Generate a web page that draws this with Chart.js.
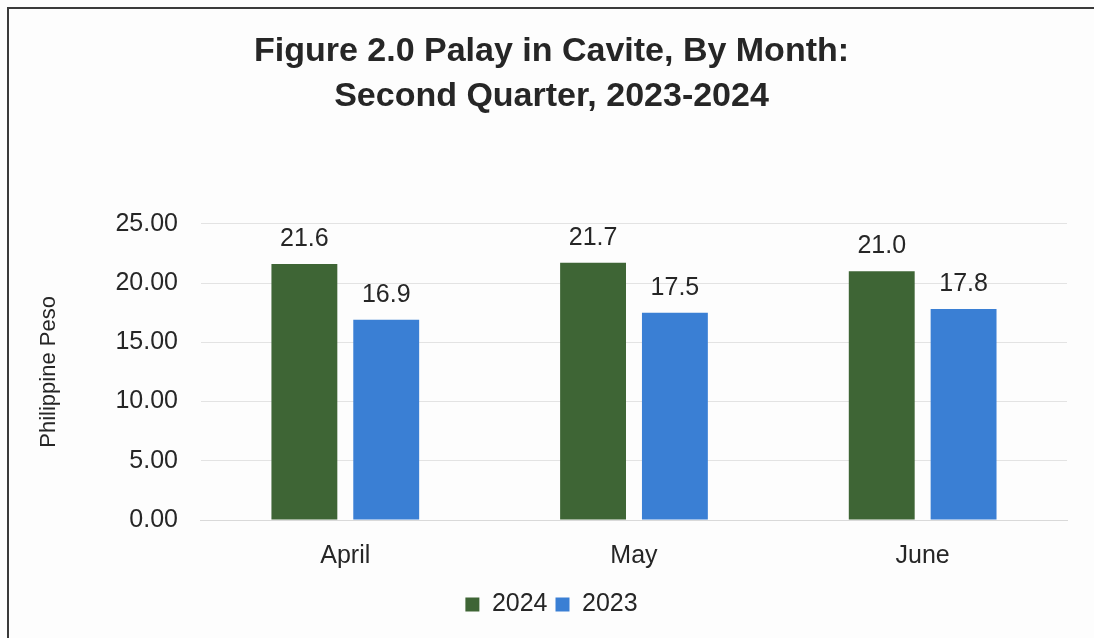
<!DOCTYPE html>
<html>
<head>
<meta charset="utf-8">
<script src="https://cdn.jsdelivr.net/npm/chart.js@4.4.1/dist/chart.umd.min.js"></script>
<style>
  html, body { margin: 0; padding: 0; background: #fdfdfd; }
  #wrap { position: relative; width: 1094px; height: 638px; overflow: hidden; }
  #frame { position: absolute; left: 7px; top: 7px; width: 1100px; height: 640px;
           border-left: 2px solid #3a3a3a; border-top: 2px solid #3a3a3a; box-sizing: border-box; }
  canvas { position: absolute; left: 0; top: 0; }
</style>
</head>
<body>
<div id="wrap">
  <div id="frame"></div>
  <canvas id="chart" width="1094" height="638"></canvas>
</div>
<script>
// datos
const months = ['April', 'May', 'June'];
const values2024 = [21.6, 21.7, 21.0];
const values2023 = [16.9, 17.5, 17.8];
const yTicks = [0, 5, 10, 15, 20, 25];

const FONT = '"Liberation Sans", Arial, sans-serif';

// etiquetas de valor encima de cada barra
const barLabels = {
    id: 'barLabels',
    afterDatasetsDraw(chart) {
        const ctx = chart.ctx;
        ctx.save();
        ctx.font = '25px ' + FONT;
        ctx.fillStyle = '#262626';
        ctx.textAlign = 'center';
        ctx.textBaseline = 'alphabetic';
        chart.data.datasets.forEach((ds, i) => {
            const meta = chart.getDatasetMeta(i);
            meta.data.forEach((bar, j) => {
                ctx.fillText(ds.data[j].toFixed(1), bar.x, bar.y - 18);
            });
        });
        ctx.restore();
    }
};

new Chart(document.getElementById('chart'), {
    type: 'bar',
    data: {
        labels: months,
        datasets: [
            { label: '2024', data: values2024, backgroundColor: '#3e6535', borderWidth: 0 },
            { label: '2023', data: values2023, backgroundColor: '#3a7fd4', borderWidth: 0 }
        ]
    },
    options: {
        responsive: false,
        animation: false,
        layout: { padding: { left: 36, right: 27, top: 25, bottom: 11 } },
        datasets: { bar: { categoryPercentage: 0.567, barPercentage: 0.805 } },
        scales: {
            x: {
                grid: { display: false },
                border: { color: '#d9d9d9' },
                ticks: { color: '#262626', padding: 13, font: { size: 25, family: FONT } }
            },
            y: {
                min: 0,
                max: 25,
                afterBuildTicks: axis => { axis.ticks = yTicks.map(v => ({ value: v })); },
                grid: { color: '#e3e3e3', drawTicks: false },
                border: { display: false },
                ticks: {
                    color: '#262626',
                    padding: 23,
                    font: { size: 25, family: FONT },
                    callback: v => Number(v).toFixed(2)
                },
                title: {
                    display: true,
                    text: 'Philippine Peso',
                    color: '#262626',
                    padding: { top: 0, bottom: 30 },
                    font: { size: 22, family: FONT }
                }
            }
        },
        plugins: {
            title: {
                display: true,
                text: ['Figure 2.0 Palay in Cavite, By Month:', 'Second Quarter, 2023-2024'],
                color: '#262626',
                font: { size: 34, weight: 'bold', family: '"Liberation Sans Narrow", "Liberation Sans", Arial, sans-serif', lineHeight: 1.32 },
                padding: { top: 4, bottom: 105 }
            },
            legend: {
                position: 'bottom',
                labels: {
                    color: '#262626',
                    boxWidth: 14,
                    boxHeight: 14,
                    padding: 8,
                    font: { size: 25, family: FONT }
                }
            },
            tooltip: { enabled: false }
        }
    },
    plugins: [barLabels]
});
</script>
</body>
</html>
